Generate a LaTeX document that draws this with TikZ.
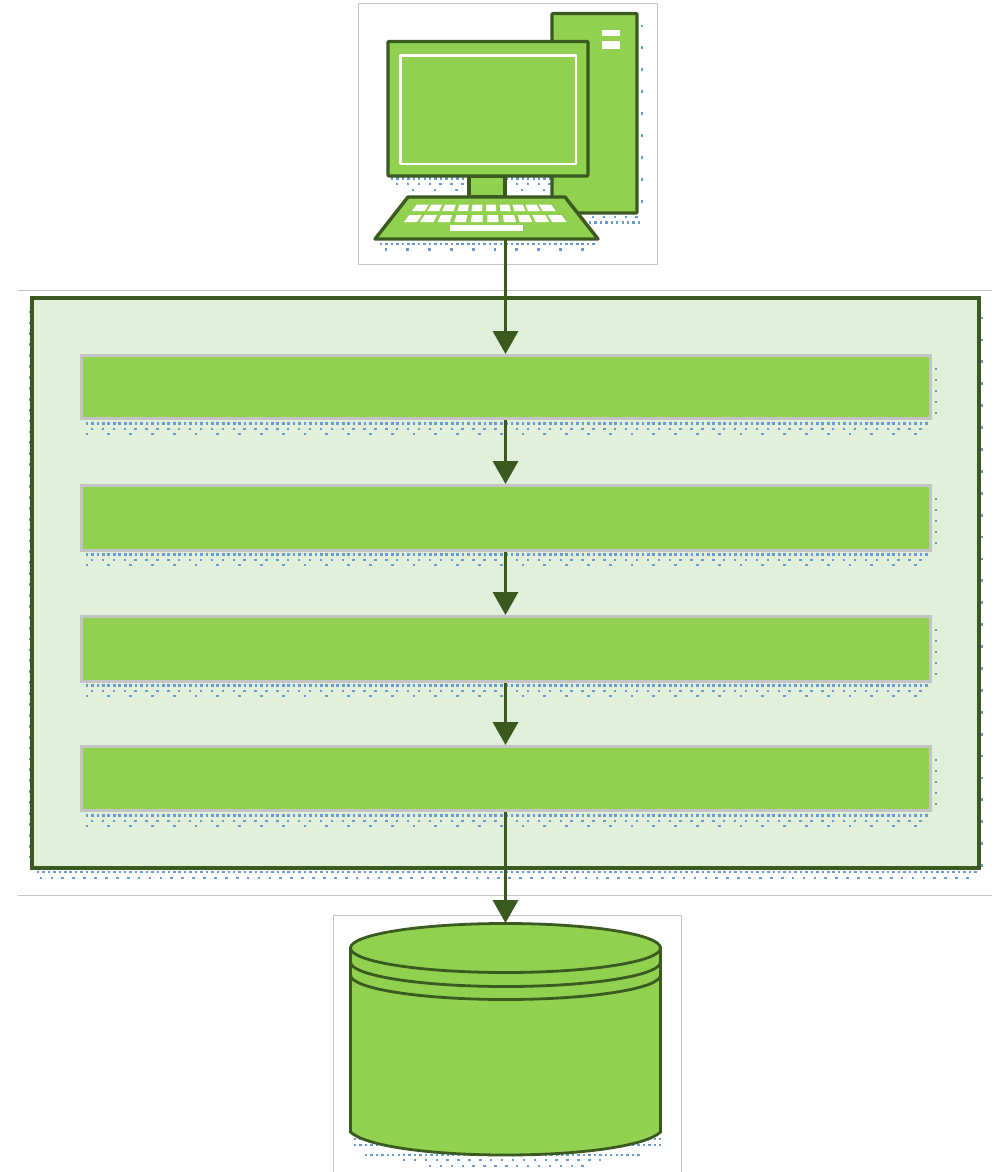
\documentclass[tikz,border=0pt]{standalone}
\usetikzlibrary{arrows.meta}
\definecolor{dk}{HTML}{3A5A20}
\definecolor{gr}{HTML}{92D050}
\definecolor{lt}{HTML}{E2EFDA}
\definecolor{fr}{HTML}{C4C4C4}
\definecolor{dotc}{HTML}{6A9BD0}
\newcommand{\dotrow}[5]{\pgfmathsetmacro\xnext{#1+#4}\foreach \xx in {#1,\xnext,...,#2}{\fill[dotc] (\xx-#5/2,#3-#5/2) rectangle ++(#5,#5);}}
\newcommand{\dotcol}[5]{\pgfmathsetmacro\ynext{#2+#4}\foreach \yy in {#2,\ynext,...,#3}{\fill[dotc] (#1-#5/2,\yy-#5/2) rectangle ++(#5,#5);}}
\newcommand{\bardots}[1]{\dotrow{87}{931}{#1+4.5}{5.45}{2.7}\dotrow{92}{931}{#1+10}{10.9}{2.4}\dotrow{87}{931}{#1+15}{21.8}{2.7}}
\tikzset{
 x=1pt,y=-1pt,
 framebox/.style={draw=fr,line width=0.9pt,fill=white},
 thinrule/.style={draw=fr,line width=0.9pt},
 bigpanel/.style={draw=dk,line width=3.4pt,fill=lt},
 layerbar/.style={draw=fr,line width=3pt,fill=gr,rectangle,minimum width=849pt,inner sep=0pt,outer sep=1.5pt},
 part/.style={draw=dk,line width=3.4pt,fill=gr,line join=round,rounded corners=1pt},
 cyl/.style={draw=dk,line width=2.8pt,fill=gr},
 keycap/.style={fill=white,draw=none},
 flow/.style={draw=dk,line width=3.4pt,-{Triangle[length=23pt,width=25pt]}},
}
\begin{document}
\begin{tikzpicture}
\useasboundingbox (0,0) rectangle (1000,1172);
\fill[white] (0,0) rectangle (1000,1172);
% frames and rules
\draw[framebox] (358.5,3) rectangle (657,264.5);
\draw[framebox] (333.5,915.5) rectangle (681,1173);
\draw[thinrule] (18,290) -- (992,290);
\draw[thinrule] (18,895) -- (992,895);
% computer shadows
\dotcol{642}{26}{205}{21.9}{2.8}
\dotrow{593}{643}{217}{10.9}{2.4}
\dotrow{590}{643}{222.5}{5.45}{2.4}
\dotrow{392}{552}{178.5}{5.45}{2.4}
\dotrow{397}{552}{184}{10.9}{2.4}
\dotrow{413}{552}{190}{21.8}{2.4}
\dotrow{381}{598}{244}{5.45}{2.6}
\dotrow{386}{590}{249.5}{21.8}{2.8}
% computer
\draw[part] (552,13.5) rectangle (637,213);
\fill[white] (602,30) rectangle (620,36);
\fill[white] (602,41.5) rectangle (620,49);
\draw[part,rounded corners=0pt] (469,176) rectangle (505,197);
\draw[part] (388,41.5) rectangle (588,176);
\draw[draw=white,line width=2.4pt,line join=round] (400.5,55.5) rectangle (576,164);
\draw[part,rounded corners=0pt] (408,197) -- (565,197) -- (598,239) -- (375,239) -- cycle;
\foreach \a/\b in {193/230,238/272,281/314,325/355,366/397,408/438,450/480,490/522,530/565,572/610}{
 \fill[keycap] ({350+(\a+(410-\a)*.035)/3},204.5) -- ({350+(\b+(410-\b)*.035)/3},204.5) -- ({350+(\b-(410-\b)*.035)/3},211) -- ({350+(\a-(410-\a)*.035)/3},211) -- cycle;}
\foreach \a/\b in {170/208,217/256,268/303,316/350,364/398,412/445,460/495,506/542,552/592,600/642}{
 \fill[keycap] ({350+(\a+(410-\a)*.035)/3},215) -- ({350+(\b+(410-\b)*.035)/3},215) -- ({350+(\b-(410-\b)*.035)/3},222) -- ({350+(\a-(410-\a)*.035)/3},222) -- cycle;}
\fill[keycap] (450,225) rectangle (523,231);
\coordinate (kb) at (505.5,239);
% container
\dotcol{30}{312}{866}{10.9}{2.8}
\dotcol{982}{318}{866}{21.9}{2.8}
\dotrow{38}{978}{872}{5.45}{2.5}
\dotrow{41}{978}{878}{10.9}{2.7}
\draw[bigpanel] (32,298) rectangle (979,868);
% layers
\bardots{419}
\bardots{550}
\bardots{681}
\bardots{811}
\foreach \yy in {369,380,391,402,413,499,510,521,532,543,630,641,652,663,674,760,771,782,793,804}{\fill[dotc!70!gray] (935.2,\yy-1) rectangle ++(2,2);}
\node[layerbar,minimum height=63pt] (bar1) at (505.5,387) {};
\node[layerbar,minimum height=65pt] (bar2) at (505.5,518) {};
\node[layerbar,minimum height=65pt] (bar3) at (505.5,649) {};
\node[layerbar,minimum height=64pt] (bar4) at (505.5,778.5) {};
% database shadow
\dotrow{355}{662}{1139}{5.45}{2.4}
\dotrow{355}{662}{1145}{5.45}{2.4}
\dotrow{366}{640}{1155}{5.45}{2.4}
\dotrow{404}{604}{1160}{10.9}{2.4}
\dotrow{430}{590}{1166}{10.9}{2.4}
% database
\draw[cyl] (350.5,948) -- (350.5,1132) .. controls (365,1146) and (430,1155) .. (505.5,1155) .. controls (581,1155) and (646,1146) .. (660.5,1132) -- (660.5,948) -- cycle;
\draw[cyl] (505.5,948) ellipse [x radius=155,y radius=24.5];
\draw[cyl,fill=none] (350.5,962) arc [start angle=180,end angle=360,x radius=155,y radius=-24.5];
\draw[cyl,fill=none] (350.5,975) arc [start angle=180,end angle=360,x radius=155,y radius=-24.5];
\coordinate (dbtop) at (505.5,923);
% connectors
\draw[flow] (kb) -- (bar1.north);
\draw[flow] (bar1.south) -- (bar2.north);
\draw[flow] (bar2.south) -- (bar3.north);
\draw[flow] (bar3.south) -- (bar4.north);
\draw[flow] (bar4.south) -- (dbtop);
\end{tikzpicture}
\end{document}
